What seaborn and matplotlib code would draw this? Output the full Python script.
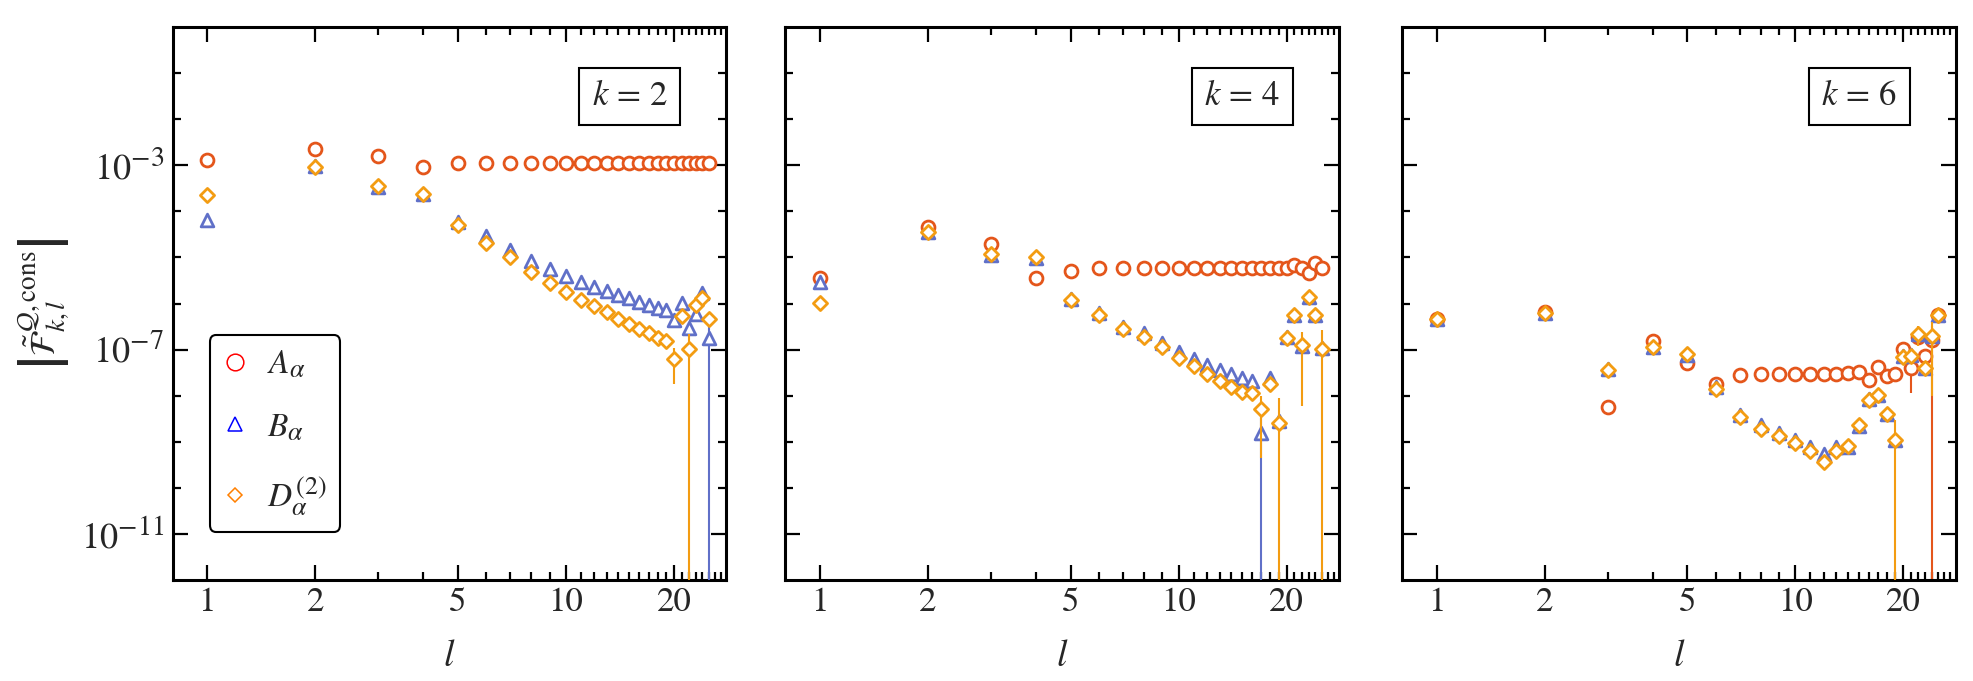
import numpy as np
import pandas as pd
import matplotlib
matplotlib.use("Agg")
import matplotlib.pyplot as plt
import matplotlib._mathtext as _mt
import seaborn as sns
from matplotlib.lines import Line2D
from matplotlib.ticker import FixedLocator, FixedFormatter, NullFormatter

# larger script sizes (closer to the reference typesetting)
_mt.SHRINK_FACTOR = 0.78

# ---------------- data ----------------
l_vals = list(range(1, 26))
panel_labels = [r"$k\,=\,2$", r"$k\,=\,4$", r"$k\,=\,6$"]
series_labels = [r"$A_{\alpha}$", r"$B_{\alpha}$", r"$D_{\alpha}^{(2)}$"]

x_major = [1, 2, 5, 10, 20]
x_major_labels = ["1", "2", "5", "10", "20"]
y_major = [1e-3, 1e-7, 1e-11]
y_major_labels = [r"$10^{-3}$", r"$10^{-7}$", r"$10^{-11}$"]

# k = 2
A_k2 = [1.30e-3, 2.24e-3, 1.55e-3, 9.3e-4, 1.10e-3, 1.12e-3, 1.12e-3, 1.12e-3, 1.12e-3, 1.12e-3,
        1.12e-3, 1.12e-3, 1.12e-3, 1.12e-3, 1.12e-3, 1.12e-3, 1.12e-3, 1.12e-3, 1.12e-3, 1.12e-3,
        1.12e-3, 1.12e-3, 1.12e-3, 1.12e-3, 1.12e-3]
B_k2 = [6.6e-5, 9.55e-4, 3.31e-4, 2.40e-4, 5.89e-5, 2.88e-5, 1.45e-5, 8.3e-6, 5.5e-6, 3.89e-6,
        2.95e-6, 2.29e-6, 1.86e-6, 1.51e-6, 1.29e-6, 1.07e-6, 9.5e-7, 7.9e-7, 7.1e-7, 4.4e-7,
        1.02e-6, 3.0e-7, 6.0e-7, 1.70e-6, 1.82e-7]
D_k2 = [2.29e-4, 9.3e-4, 3.55e-4, 2.32e-4, 5.0e-5, 2.07e-5, 1.0e-5, 4.9e-6, 2.82e-6, 1.82e-6,
        1.22e-6, 8.7e-7, 6.6e-7, 4.7e-7, 3.63e-7, 2.85e-7, 2.29e-7, 1.74e-7, 1.51e-7, 6.2e-8,
        5.25e-7, 1.05e-7, 9.1e-7, 1.29e-6, 4.7e-7]
A_err_k2 = [0.0] * 25
B_err_k2 = [0.0] * 24 + [1.9e-7]
D_err_k2 = [0.0] * 19 + [4.4e-8, 0.0, 1.1e-7, 0.0, 0.0, 0.0]

# k = 4
A_k4 = [3.63e-6, 4.47e-5, 1.91e-5, 3.63e-6, 5.13e-6, 5.75e-6, 6.0e-6, 6.0e-6, 6.0e-6, 6.0e-6,
        6.0e-6, 6.0e-6, 6.0e-6, 6.0e-6, 6.0e-6, 6.0e-6, 6.0e-6, 6.0e-6, 6.0e-6, 6.0e-6,
        6.76e-6, 5.75e-6, 4.68e-6, 7.41e-6, 6.0e-6]
B_k4 = [2.95e-6, 3.63e-5, 1.12e-5, 9.5e-6, 1.26e-6, 6.3e-7, 3.16e-7, 2.29e-7, 1.38e-7, 8.9e-8,
        6.3e-8, 4.6e-8, 3.55e-8, 2.88e-8, 2.4e-8, 2.09e-8, 1.58e-9, 2.4e-8, 2.82e-9, 1.86e-7,
        5.75e-7, 1.17e-7, 1.38e-6, 5.75e-7, 1.07e-7]
D_k4 = [1.02e-6, 3.63e-5, 1.20e-5, 1.0e-5, 1.17e-6, 5.56e-7, 2.75e-7, 1.91e-7, 1.15e-7, 6.6e-8,
        4.37e-8, 2.88e-8, 2.09e-8, 1.58e-8, 1.20e-8, 1.15e-8, 5.25e-9, 1.82e-8, 2.57e-9, 1.74e-7,
        5.56e-7, 1.23e-7, 1.35e-6, 5.56e-7, 1.05e-7]
A_err_k4 = [0.0] * 25
B_err_k4 = [0.0] * 16 + [1.7e-9] + [0.0] * 8
D_err_k4 = [0.0] * 16 + [4.8e-9, 0.0, 6.2e-9, 0.0, 0.0, 1.17e-7, 0.0, 0.0, 1.6e-7]

# k = 6
A_k6 = [4.52e-7, 6.46e-7, 5.75e-9, 1.51e-7, 5.0e-8, 1.78e-8, 2.75e-8, 2.88e-8, 2.95e-8, 3.02e-8,
        3.02e-8, 3.02e-8, 3.02e-8, 3.09e-8, 3.24e-8, 2.24e-8, 4.17e-8, 2.63e-8, 3.02e-8, 1.05e-7,
        3.89e-8, 1.91e-7, 7.16e-8, 1.58e-7, 5.56e-7]
B_k6 = [4.52e-7, 6.17e-7, 3.8e-8, 1.12e-7, 7.76e-8, 1.51e-8, 3.89e-9, 2.29e-9, 1.55e-9, 1.10e-9,
        7.6e-10, 5.4e-10, 7.6e-10, 7.6e-10, 2.19e-9, 8.5e-9, 1.05e-8, 3.98e-9, 1.10e-9, 7.4e-8,
        7.6e-8, 2.19e-7, 3.98e-8, 2.0e-7, 5.56e-7]
D_k6 = [4.52e-7, 6.3e-7, 3.63e-8, 1.11e-7, 8.1e-8, 1.41e-8, 3.47e-9, 1.91e-9, 1.32e-9, 9.3e-10,
        6.3e-10, 3.63e-10, 6.3e-10, 7.9e-10, 2.29e-9, 8.1e-9, 1.05e-8, 3.94e-9, 1.11e-9, 6.9e-8,
        7.2e-8, 2.19e-7, 3.98e-8, 2.0e-7, 5.56e-7]
A_err_k6 = [0.0] * 20 + [2.75e-8, 0.0, 0.0, 1.7e-7, 0.0]
B_err_k6 = [0.0] * 25
D_err_k6 = [0.0] * 18 + [1.9e-9, 0.0, 0.0, 1.0e-7, 0.0, 1.9e-7, 0.0]

panels = [
    (A_k2, B_k2, D_k2, A_err_k2, B_err_k2, D_err_k2),
    (A_k4, B_k4, D_k4, A_err_k4, B_err_k4, D_err_k4),
    (A_k6, B_k6, D_k6, A_err_k6, B_err_k6, D_err_k6),
]

# ---------------- style ----------------
A_color = "#e4561b"
B_color = "#6070c8"
D_color = "#f39c12"
colors = [A_color, B_color, D_color]
markers = ["o", "^", "D"]
sizes = [86, 84, 52]

sns.set_style("ticks")
plt.rcParams["font.family"] = ["STIXGeneral", "DejaVu Serif"]
plt.rcParams["mathtext.fontset"] = "stix"

W, H = 1974, 681
fig = plt.figure(figsize=(W / 100, H / 100), dpi=100)
lefts = [172.5, 785.2, 1401.9]
axes = [fig.add_axes([lx / W, (H - 580) / H, 554 / W, 553 / H]) for lx in lefts]

x_minor = [3, 4, 6, 7, 8, 9] + list(range(11, 20)) + list(range(21, 28))
y_minor = [1e-1, 1e-2, 1e-4, 1e-5, 1e-6, 1e-8, 1e-9, 1e-10]

for i, (ax, data) in enumerate(zip(axes, panels)):
    A, B, D, Ae, Be, De = data
    df = pd.DataFrame({"l": l_vals, "A": A, "B": B, "D": D,
                       "Ae": Ae, "Be": Be, "De": De})
    ax.set_xscale("log")
    ax.set_yscale("log")
    for j, (col, ecol) in enumerate([("A", "Ae"), ("B", "Be"), ("D", "De")]):
        sel = df[df[ecol] > 0]
        if len(sel):
            ax.errorbar(sel["l"], sel[col], yerr=sel[ecol], fmt="none",
                        ecolor=colors[j], elinewidth=1.5, capsize=0, zorder=2 + 2 * j)
        sns.scatterplot(data=df, x="l", y=col, ax=ax, marker=markers[j], s=sizes[j],
                        color="white", edgecolor=colors[j], linewidth=2.0,
                        zorder=3 + 2 * j, legend=False)
    ax.set_xlim(0.8, 28)
    ax.set_ylim(1e-12, 1.0)
    ax.xaxis.set_major_locator(FixedLocator(x_major))
    ax.xaxis.set_major_formatter(FixedFormatter(x_major_labels))
    ax.xaxis.set_minor_locator(FixedLocator(x_minor))
    ax.xaxis.set_minor_formatter(NullFormatter())
    ax.yaxis.set_major_locator(FixedLocator(y_major))
    ax.yaxis.set_minor_locator(FixedLocator(y_minor))
    ax.yaxis.set_minor_formatter(NullFormatter())
    if i == 0:
        ax.yaxis.set_major_formatter(FixedFormatter(y_major_labels))
    else:
        ax.yaxis.set_major_formatter(NullFormatter())
    ax.tick_params(which="major", direction="in", length=10.5, width=1.6,
                   top=True, right=True, labelsize=25, pad=5, color="black")
    ax.tick_params(which="minor", direction="in", length=5.5, width=1.6,
                   top=True, right=True, color="black")
    ax.tick_params(axis="y", which="major", pad=6, labelsize=26)
    for sp in ax.spines.values():
        sp.set_linewidth(2.2)
        sp.set_color("black")
    ax.set_xlabel(r"$l$", fontsize=27)
    ax.xaxis.set_label_coords(0.5, -0.108)
    ax.xaxis.label.set_va("top")
    ax.set_ylabel("")
    ax.text(1 - 58.7 / 554, 1 - 53.7 / 553, panel_labels[i], transform=ax.transAxes,
            ha="right", va="top", fontsize=25, zorder=10,
            bbox=dict(boxstyle="square,pad=0.36", fc="white", ec="black", lw=1.5))

fig.text(44.6 / W, 1 - 303.5 / H,
         r"$\left|\tilde{\mathcal{F}}^{\mathcal{Q},\mathrm{cons}}_{k,l}\right|$",
         rotation=90, ha="center", va="center", fontsize=25)

handles = [
    Line2D([], [], ls="none", marker="o", mfc="none", mec="#ff0000", ms=12, mew=1.1),
    Line2D([], [], ls="none", marker="^", mfc="none", mec="#0000ff", ms=10, mew=1.1),
    Line2D([], [], ls="none", marker="D", mfc="none", mec="#ff8000", ms=7.4, mew=1.1),
]
leg = axes[0].legend(handles, series_labels, loc="lower left",
                     bbox_to_anchor=(37 / 554, 48.3 / 553), borderaxespad=0,
                     fontsize=24, frameon=True, fancybox=True, framealpha=1,
                     edgecolor="black", borderpad=0.42, handlelength=0.7,
                     handletextpad=0.6, labelspacing=0.95)
leg.get_frame().set_linewidth(1.5)

fig.savefig("out.png", dpi=100)
